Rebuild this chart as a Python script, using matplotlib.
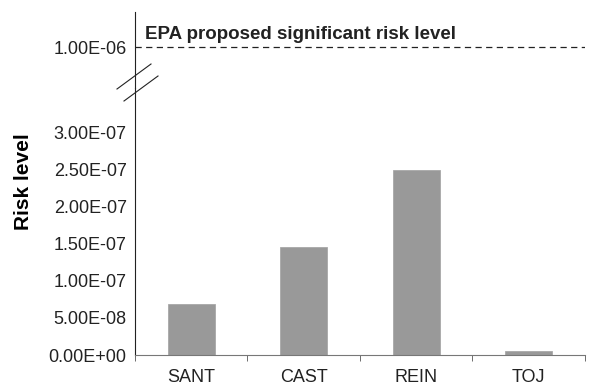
import numpy as np
import matplotlib
matplotlib.use('Agg')
import matplotlib.pyplot as plt
from matplotlib.ticker import FuncFormatter

## data
sites = ['SANT', 'CAST', 'REIN', 'TOJ']
risk = [6.9e-8, 1.46e-7, 2.49e-7, 5.5e-9]
epa_level = 1.0e-6
low_ticks = [0, 5e-8, 1e-7, 1.5e-7, 2e-7, 2.5e-7, 3e-7]

plt.rcParams['font.family'] = ['Liberation Sans', 'DejaVu Sans']

fig = plt.figure(figsize=(5.89, 3.85), dpi=100)
ax = fig.add_axes([0.2292, 0.0779, 0.764, 0.6948])
ax_top = fig.add_axes([0.2292, 0.7727, 0.764, 0.1961])

fmt = FuncFormatter(lambda v, p: f"{v:.2E}")

# bars
x = np.arange(len(sites))
ax.bar(x, risk, width=0.42, color='#999999', edgecolor='#a8a8a8', linewidth=0.6)
ax.set_xlim(-0.5, len(sites) - 0.5)
ax.set_ylim(0, 3.6e-7)
ax.set_yticks(low_ticks)
ax.yaxis.set_major_formatter(fmt)
ax.set_xticks(x)
ax.set_xticklabels(sites)
ax.set_xticks(np.arange(len(sites) + 1) - 0.5, minor=True)
ax.tick_params(axis='x', which='major', length=0, pad=10, labelsize=13, colors='#222222')
ax.tick_params(axis='x', which='minor', length=4, direction='out', color='#555555')
ax.tick_params(axis='y', length=0, pad=6, labelsize=13, colors='#222222')
for s in ['top', 'right']:
    ax.spines[s].set_visible(False)
ax.spines['bottom'].set_color('#777777')
ax.spines['left'].set_color('#222222')
ax.set_ylabel('Risk level', fontsize=15, fontweight='bold')
ax.yaxis.set_label_coords(-0.226, 0.649)

# top part with EPA level
ax_top.set_xlim(-0.5, len(sites) - 0.5)
ax_top.set_ylim(0.92e-6, 1.07e-6)
ax_top.axhline(epa_level, color='#222222', linestyle=(0, (5, 3.5)), linewidth=0.9)
ax_top.set_yticks([epa_level])
ax_top.yaxis.set_major_formatter(fmt)
ax_top.tick_params(axis='y', length=0, pad=6, labelsize=13, colors='#222222')
ax_top.set_xticks([])
for s in ['top', 'right', 'bottom']:
    ax_top.spines[s].set_visible(False)
ax_top.spines['left'].set_color('#222222')
ax_top.text(-0.411, 1.0164e-6, 'EPA proposed significant risk level', fontsize=13.5,
            fontweight='bold', color='#222222', va='baseline', ha='left')

# axis break marks
fig.add_artist(plt.Line2D([117 / 589, 151 / 589], [1 - 89 / 385, 1 - 64 / 385], color='#222222', linewidth=0.8))
fig.add_artist(plt.Line2D([124 / 589, 158 / 589], [1 - 101 / 385, 1 - 76 / 385], color='#222222', linewidth=0.8))

fig.savefig('out.png', dpi=100)
